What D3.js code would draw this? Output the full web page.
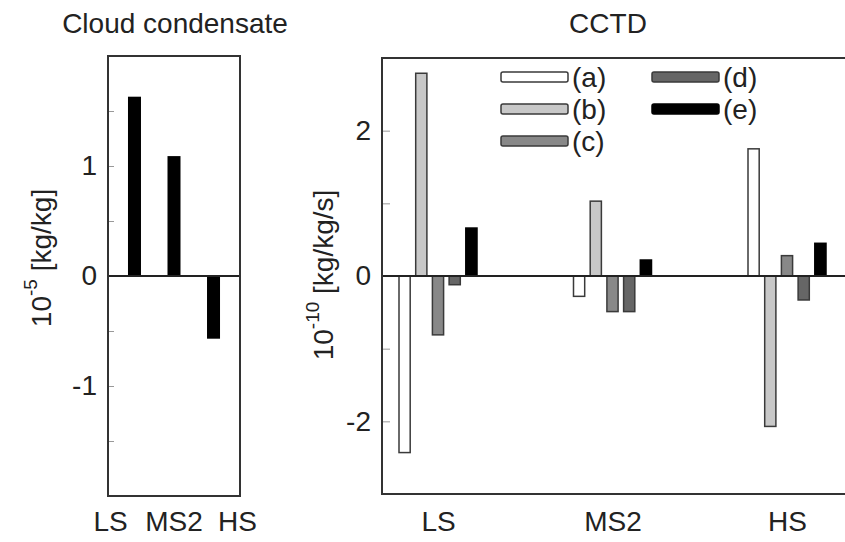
<!DOCTYPE html>
<html>
<head>
<meta charset="utf-8">
<script src="https://cdn.jsdelivr.net/npm/d3@7"></script>
<style>
  body { margin: 0; background: #fff; }
  text { font-family: "Liberation Sans", Arial, Helvetica, sans-serif; fill: #222; }
</style>
</head>
<body>
<div id="graph"></div>
<script>
// data
var cats = ["LS", "MS2", "HS"];
var condensate = [1.63, 1.09, -0.57];          // 10^-5 kg/kg
var series = ["(a)", "(b)", "(c)", "(d)", "(e)"];
var cctdA = [-2.43, -0.28, 1.75];               // 10^-10 kg/kg/s
var cctdB = [2.79, 1.03, -2.07];
var cctdC = [-0.81, -0.49, 0.28];
var cctdD = [-0.12, -0.49, -0.33];
var cctdE = [0.66, 0.22, 0.45];
var leftLabels = [-1, 0, 1];
var rightLabels = [-2, 0, 2];

var fills = ["#ffffff", "#c8c8c8", "#888888", "#666666", "#000000"];
var strokes = ["#3a3a3a", "#3a3a3a", "#3a3a3a", "#3a3a3a", "#000000"];
var fs = 28;

var svg = d3.select("#graph")
    .append("svg")
    .attr("width", 845)
    .attr("height", 542);

function styleText(g) {
    g.selectAll("text").attr("font-size", fs).attr("font-family", null).attr("fill", "#222");
}

// ---------- left panel: cloud condensate ----------
var L = {left: 108, top: 56, width: 132, height: 440};
var gl = svg.append("g").attr("transform", "translate(" + L.left + "," + L.top + ")");

var yl = d3.scaleLinear().domain([-2, 2]).range([L.height, 0]);
var xl = d3.scalePoint().domain(cats).range([0, L.width]).padding(0.67);
var xlLab = d3.scalePoint().domain(cats).range([2, L.width - 3]).padding(0);

gl.append("g")
    .call(d3.axisLeft(yl)
        .tickValues(d3.range(-2, 2.01, 0.5))
        .tickSize(-6)
        .tickPadding(11)
        .tickFormat(function (d) { return leftLabels.indexOf(d) >= 0 ? String(d) : ""; }))
    .call(function (g) { g.select(".domain").remove(); })
    .call(function (g) { g.selectAll("line").attr("stroke", "#999"); })
    .call(styleText);

gl.selectAll("rect.bar")
    .data(condensate)
    .enter().append("rect")
    .attr("class", "bar")
    .attr("x", function (d, i) { return xl(cats[i]) - 6.5; })
    .attr("width", 13)
    .attr("y", function (d) { return yl(Math.max(d, 0)); })
    .attr("height", function (d) { return Math.abs(yl(d) - yl(0)); })
    .attr("fill", "#000");

gl.append("line")
    .attr("x1", 0).attr("x2", L.width)
    .attr("y1", yl(0)).attr("y2", yl(0))
    .attr("stroke", "#222").attr("stroke-width", 1.8);

gl.append("rect")
    .attr("width", L.width).attr("height", L.height)
    .attr("fill", "none").attr("stroke", "#333").attr("stroke-width", 2);

gl.append("g")
    .attr("transform", "translate(0," + L.height + ")")
    .call(d3.axisBottom(xlLab).tickSize(0).tickPadding(15))
    .call(function (g) { g.select(".domain").remove(); })
    .call(styleText);

svg.append("text")
    .attr("x", 175).attr("y", 33)
    .attr("text-anchor", "middle")
    .attr("font-size", fs)
    .text("Cloud condensate");

var ylab = svg.append("text")
    .attr("transform", "translate(51,258) rotate(-90)")
    .attr("text-anchor", "middle")
    .attr("font-size", fs);
ylab.append("tspan").text("10");
ylab.append("tspan").attr("font-size", 19).attr("dy", -14).text("-5");
ylab.append("tspan").attr("dy", 14).text(" [kg/kg]");

// ---------- right panel: CCTD ----------
var R = {left: 382, top: 58, width: 470, height: 436};
var gr = svg.append("g").attr("transform", "translate(" + R.left + "," + R.top + ")");

var yr = d3.scaleLinear().domain([-3, 3]).range([R.height, 0]);
var x0 = d3.scalePoint().domain(cats).range([56, 405]);
var x1 = d3.scaleBand().domain(series).range([-39, 39]).paddingInner(0.33);

gr.append("g")
    .call(d3.axisLeft(yr)
        .tickValues(d3.range(-3, 3.01, 1))
        .tickSize(-8)
        .tickPadding(11)
        .tickFormat(function (d) { return rightLabels.indexOf(d) >= 0 ? String(d) : ""; }))
    .call(function (g) { g.select(".domain").remove(); })
    .call(function (g) { g.selectAll("line").attr("stroke", "#999"); })
    .call(styleText);

var cctd = [cctdA, cctdB, cctdC, cctdD, cctdE];
var rows = [];
cctd.forEach(function (vals, s) {
    vals.forEach(function (v, c) {
        rows.push({cat: cats[c], s: s, value: v});
    });
});

gr.selectAll("rect.bar")
    .data(rows)
    .enter().append("rect")
    .attr("class", "bar")
    .attr("x", function (d) { return x0(d.cat) + x1(series[d.s]); })
    .attr("width", x1.bandwidth())
    .attr("y", function (d) { return yr(Math.max(d.value, 0)); })
    .attr("height", function (d) { return Math.abs(yr(d.value) - yr(0)); })
    .attr("fill", function (d) { return fills[d.s]; })
    .attr("stroke", function (d) { return strokes[d.s]; })
    .attr("stroke-width", 1.5);

gr.append("line")
    .attr("x1", 0).attr("x2", R.width)
    .attr("y1", yr(0)).attr("y2", yr(0))
    .attr("stroke", "#222").attr("stroke-width", 1.8);

gr.append("rect")
    .attr("width", R.width).attr("height", R.height)
    .attr("fill", "none").attr("stroke", "#333").attr("stroke-width", 2);

gr.append("g")
    .attr("transform", "translate(0," + R.height + ")")
    .call(d3.axisBottom(x0).tickSize(0).tickPadding(17))
    .call(function (g) { g.select(".domain").remove(); })
    .call(styleText);

// legend, two columns
var leg = gr.selectAll("g.leg")
    .data(series)
    .enter().append("g")
    .attr("class", "leg")
    .attr("transform", function (d, i) {
        var col = i < 3 ? 0 : 1, row = i < 3 ? i : i - 3;
        return "translate(" + (119 + col * 151) + "," + (19 + row * 32) + ")";
    });
leg.append("rect")
    .attr("width", 67).attr("height", 10)
    .attr("y", -5).attr("rx", 2)
    .attr("fill", function (d, i) { return fills[i]; })
    .attr("stroke", function (d, i) { return strokes[i]; })
    .attr("stroke-width", 1.5);
leg.append("text")
    .attr("x", 71).attr("dy", "0.36em")
    .attr("font-size", fs)
    .text(function (d) { return d; });

svg.append("text")
    .attr("x", 608).attr("y", 33)
    .attr("text-anchor", "middle")
    .attr("font-size", fs)
    .text("CCTD");

var yrlab = svg.append("text")
    .attr("transform", "translate(333,275) rotate(-90)")
    .attr("text-anchor", "middle")
    .attr("font-size", fs);
yrlab.append("tspan").text("10");
yrlab.append("tspan").attr("font-size", 19).attr("dy", -14).text("-10");
yrlab.append("tspan").attr("dy", 14).text(" [kg/kg/s]");
</script>
</body>
</html>
